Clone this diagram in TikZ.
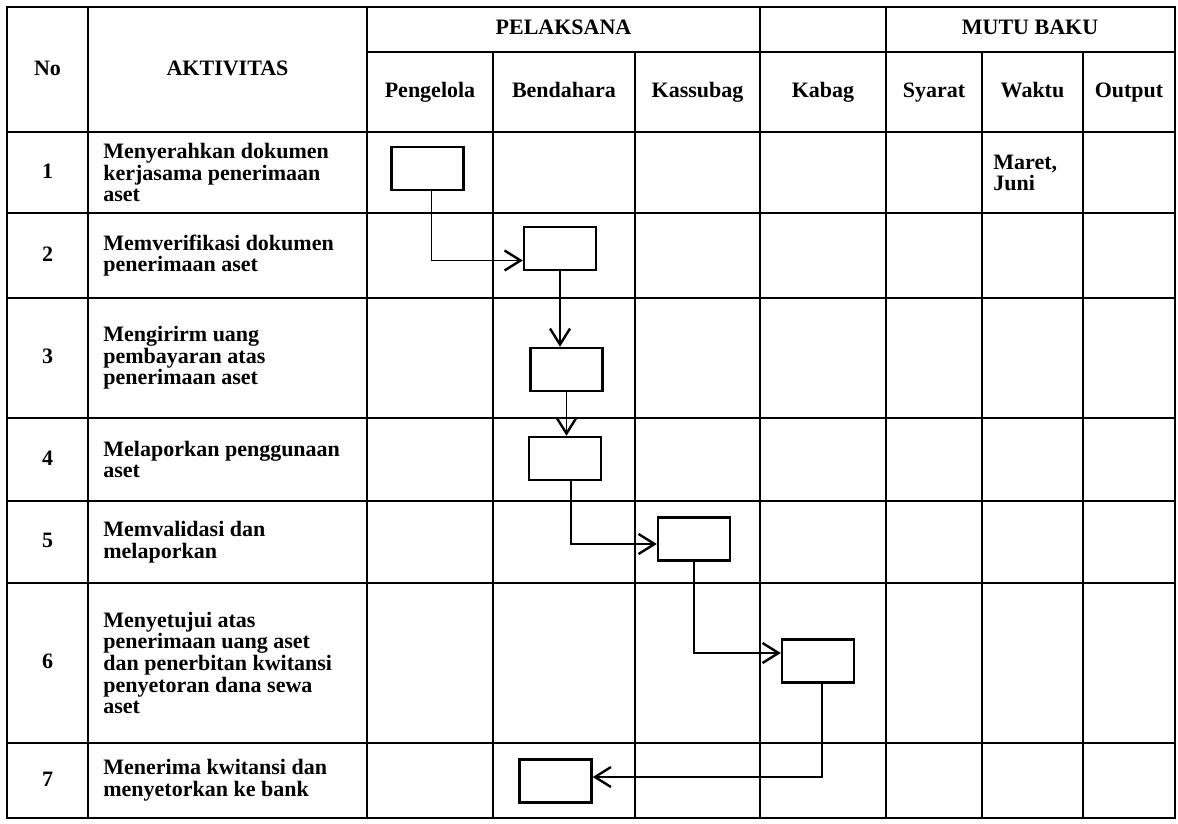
\documentclass[tikz,border=0pt]{standalone}
\usepackage{fontspec}
\setmainfont{Liberation Serif}
\usetikzlibrary{arrows.meta,calc}

\begin{document}
\begin{tikzpicture}[
    x=0.5pt, y=-0.5pt,
    garis/.style={line width=1.1pt},
    kotak/.style={draw,line width=1.2pt,minimum width=36pt,minimum height=21.5pt,inner sep=0pt},
    alur/.style={line width=0.9pt,-{Straight Barb[length=8pt,width=10pt,line width=1.2pt]}},
    teks/.style={font=\fontsize{11}{10.8}\selectfont\bfseries,inner sep=0pt},
    judul/.style={teks,text height=7.5pt,text depth=2pt},
    aktivitas/.style={teks,anchor=west,align=left}]
  \useasboundingbox (0,0) rectangle (1178,824);
  % grid of the table
  \draw[garis] (7,7) rectangle (1175,818);
  \draw[garis] (367,52) -- (1175,52);
  \draw[garis] (7,132) -- (1175,132);
  \foreach \y in {213,298,418,501,583,743}
    \draw[garis] (7,\y) -- (1175,\y);
  \foreach \x in {88,367,760,886}
    \draw[garis] (\x,7) -- (\x,818);
  \foreach \x in {493,635,982,1083}
    \draw[garis] (\x,52) -- (\x,818);
  % header
  \node[judul] (no) at (47.5,70) {No};
  \node[judul] (akt) at (227.5,70) {AKTIVITAS};
  \node[judul] (pel) at (563.5,29.5) {PELAKSANA};
  \node[judul] (mutu) at (1030,29.5) {MUTU BAKU};
  \node[judul] (pengelola) at (430,92) {Pengelola};
  \node[judul] (bendahara) at (564,92) {Bendahara};
  \node[judul] (kassubag) at (697.5,92) {Kassubag};
  \node[judul] (kabag) at (823,92) {Kabag};
  \node[judul] (syarat) at (934,92) {Syarat};
  \node[judul] (waktu) at (1032.5,92) {Waktu};
  \node[judul] (output) at (1129,92) {Output};
  % rows
  \node[judul] (n1) at (47.5,172.5) {1};
  \node[judul] (n2) at (47.5,255.5) {2};
  \node[judul] (n3) at (47.5,358) {3};
  \node[judul] (n4) at (47.5,459.5) {4};
  \node[judul] (n5) at (47.5,542) {5};
  \node[judul] (n6) at (47.5,663) {6};
  \node[judul] (n7) at (47.5,780.5) {7};
  \node[aktivitas] (a1) at (103,172.5) {Menyerahkan dokumen\\kerjasama penerimaan\\aset};
  \node[aktivitas] (a2) at (103,255.5) {Memverifikasi dokumen\\penerimaan aset};
  \node[aktivitas] (a3) at (103,358) {Mengirirm uang\\pembayaran atas\\penerimaan aset};
  \node[aktivitas] (a4) at (103,459.5) {Melaporkan penggunaan\\aset};
  \node[aktivitas] (a5) at (103,542) {Memvalidasi dan\\melaporkan};
  \node[aktivitas] (a6) at (103,663) {Menyetujui atas\\penerimaan uang aset\\dan penerbitan kwitansi\\penyetoran dana sewa\\aset};
  \node[aktivitas] (a7) at (103,780.5) {Menerima kwitansi dan\\menyetorkan ke bank};
  \node[aktivitas] (w1) at (993,173) {Maret,\\Juni};
  % flow boxes
  \node[kotak] (b1) at (427.5,168.5) {};
  \node[kotak] (b2) at (560,248.5) {};
  \node[kotak] (b3) at (566.5,369.5) {};
  \node[kotak] (b4) at (565,458.5) {};
  \node[kotak] (b5) at (694,539) {};
  \node[kotak] (b6) at (818,661) {};
  \node[kotak] (b7) at (555.5,781) {};
  \draw[alur] ([xshift=2pt]b1.south) |- ([yshift=-6pt]b2.west);
  \draw[alur] (b2.south) -- (b2.south |- b3.north);
  \draw[alur] (b3.south) -- (b3.south |- b4.north);
  \draw[alur] ([xshift=3pt]b4.south) |- ([yshift=-2.5pt]b5.west);
  \draw[alur] (b5.south) |- ([yshift=4pt]b6.west);
  \draw[alur] ([xshift=2pt]b6.south) |- ([yshift=2pt]b7.east);
\end{tikzpicture}
\end{document}
